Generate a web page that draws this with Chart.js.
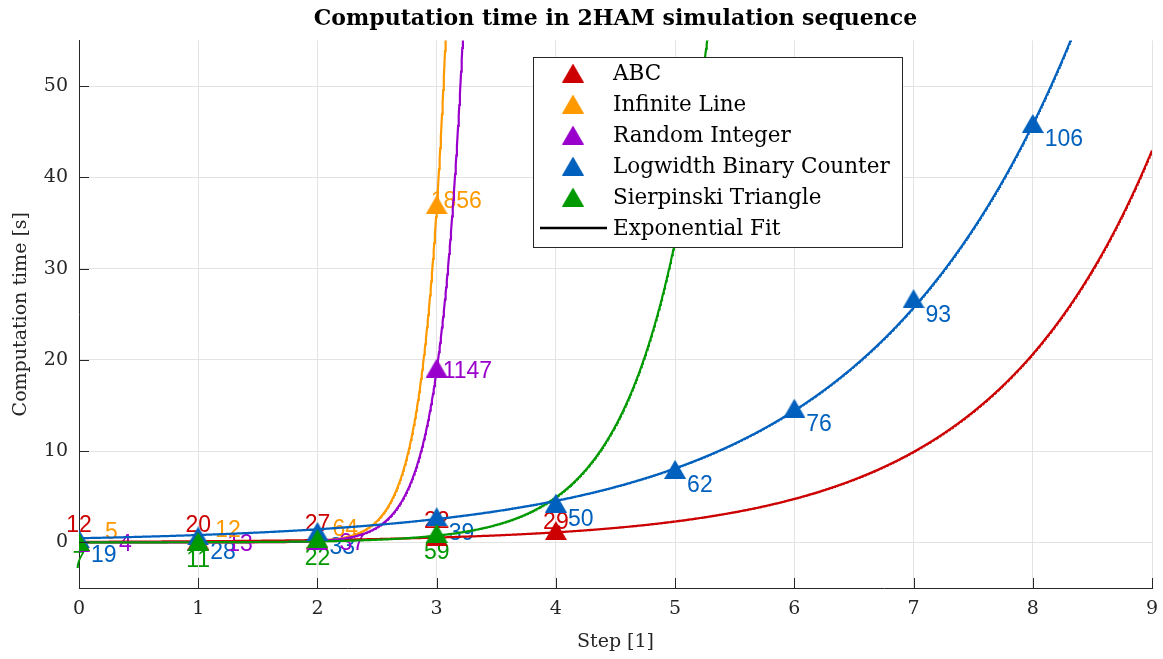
<!DOCTYPE html>
<html>
<head>
<meta charset="utf-8">
<script src="https://cdn.jsdelivr.net/npm/chart.js@4.4.1/dist/chart.umd.min.js"></script>
<style>
  html, body { margin: 0; padding: 0; background: #fff; }
</style>
</head>
<body>
<canvas id="chart" width="1163" height="659"></canvas>
<script>
// data
const seriesNames = ['ABC', 'Infinite Line', 'Random Integer', 'Logwidth Binary Counter', 'Sierpinski Triangle'];
const abcSteps = [0, 1, 2, 3, 4];
const abcTime = [0.1, 0.2, 0.3, 0.6, 1.3];
const abcLabels = ['12', '20', '27', '22', '29'];
const lineSteps = [0, 1, 2, 3];
const lineTime = [0.05, 0.1, 0.2, 37.0];
const lineLabels = ['5', '12', '64', '1856'];
const randSteps = [0, 1, 2, 3];
const randTime = [0.02, 0.05, 0.15, 19.1];
const randLabels = ['4', '13', '37', '1147'];
const counterSteps = [0, 1, 2, 3, 4, 5, 6, 7, 8];
const counterTime = [0.4, 0.7, 1.2, 2.8, 4.3, 8.0, 14.7, 26.7, 45.9];
const counterLabels = ['19', '28', '33', '39', '50', '62', '76', '93', '106'];
const sierpSteps = [0, 1, 2, 3];
const sierpTime = [0.05, 0.1, 0.4, 1.0];
const sierpLabels = ['7', '11', '22', '59'];
// exponential fit y = a * exp(b * x), one per series
const fitA = [0.0586, 2.5e-6, 7.8e-6, 0.453, 0.00247];
const fitB = [0.733, 5.5, 4.9, 0.577, 1.9];
const xTicks = [0, 1, 2, 3, 4, 5, 6, 7, 8, 9];
const yTicks = [0, 10, 20, 30, 40, 50];

const steps = [abcSteps, lineSteps, randSteps, counterSteps, sierpSteps];
const times = [abcTime, lineTime, randTime, counterTime, sierpTime];
const labels = [abcLabels, lineLabels, randLabels, counterLabels, sierpLabels];
const colors = ['#cc0000', '#ff9900', '#9900cc', '#0060bd', '#009900'];

const serif = "'DejaVu Serif', 'Liberation Serif', serif";
const axisColor = '#262626';

// label placement (pixels from the marker)
const labelStyle = [
  { align: 'center', dx: [0, 0, 0, 0, 0], dy: [-9, -9, -9, -9, -2] },
  { align: 'left', dx: [26, 17, 15, -6], dy: [-3, -4, -5, 3] },
  { align: 'left', dx: [40, 29, 22, 6], dy: [9, 9, 9, 10] },
  { align: 'left', dx: [12], dy: [23] },
  { align: 'center', dx: [0], dy: [26] },
];

function triangle(color, w, h) {
  const c = document.createElement('canvas');
  c.width = w; c.height = h;
  const g = c.getContext('2d');
  g.fillStyle = color;
  g.beginPath();
  g.moveTo(w / 2, 0);
  g.lineTo(w, h);
  g.lineTo(0, h);
  g.closePath();
  g.fill();
  return c;
}
const markers = colors.map(c => triangle(c, 22, 19));

function fitCurve(a, b) {
  const pts = [];
  for (let k = 0; k <= 1800; k++) {
    const x = k * 0.005;
    const y = a * Math.exp(b * x);
    pts.push({ x, y });
    if (y > 60) break;
  }
  return pts;
}

// markers first in the list so they sit on top; green on top of the rest
const markerOrder = [4, 3, 2, 1, 0];
const fitOrder = [3, 4, 2, 1, 0];

const datasets = [];
markerOrder.forEach(i => {
  datasets.push({
    label: seriesNames[i],
    data: steps[i].map((s, j) => ({ x: s, y: times[i][j] })),
    showLine: false,
    pointStyle: markers[i],
    pointRadius: 10,
    pointHoverRadius: 10,
    backgroundColor: colors[i],
    borderColor: colors[i],
  });
});
fitOrder.forEach(i => {
  datasets.push({
    label: 'Exponential Fit',
    data: fitCurve(fitA[i], fitB[i]),
    showLine: true,
    borderColor: colors[i],
    borderWidth: 2.2,
    pointRadius: 0,
    tension: 0,
  });
});

const valueLabels = {
  id: 'valueLabels',
  beforeDatasetsDraw(chart) {
    const ctx = chart.ctx;
    ctx.save();
    ctx.font = "23px 'Liberation Sans', Arial, sans-serif";
    ctx.textBaseline = 'alphabetic';
    markerOrder.forEach((i, d) => {
      const meta = chart.getDatasetMeta(d);
      const st = labelStyle[i];
      ctx.fillStyle = colors[i];
      ctx.textAlign = st.align;
      meta.data.forEach((pt, j) => {
        const dx = st.dx.length > 1 ? st.dx[j] : st.dx[0];
        const dy = st.dy.length > 1 ? st.dy[j] : st.dy[0];
        ctx.fillText(labels[i][j], pt.x + dx, pt.y + dy);
      });
    });
    ctx.restore();
  }
};

const axesAndLegend = {
  id: 'axesAndLegend',
  afterDraw(chart) {
    const ctx = chart.ctx;
    const a = chart.chartArea;
    const xs = chart.scales.x, ys = chart.scales.y;
    ctx.save();
    // inward tick marks
    ctx.strokeStyle = axisColor;
    ctx.lineWidth = 1;
    ctx.beginPath();
    yTicks.forEach(v => {
      const y = Math.round(ys.getPixelForValue(v)) + 0.5;
      ctx.moveTo(a.left, y); ctx.lineTo(a.left + 10, y);
    });
    xTicks.forEach(v => {
      const x = Math.round(xs.getPixelForValue(v)) + 0.5;
      ctx.moveTo(x, a.bottom); ctx.lineTo(x, a.bottom - 10);
    });
    ctx.stroke();

    // legend box
    const L = { x: 533, y: 57, w: 369, h: 190, row: 31 };
    ctx.fillStyle = '#fff';
    ctx.fillRect(L.x, L.y, L.w, L.h);
    ctx.strokeStyle = '#262626';
    ctx.strokeRect(L.x + 0.5, L.y + 0.5, L.w, L.h);
    ctx.font = '21.5px ' + serif;
    ctx.textAlign = 'left';
    ctx.textBaseline = 'middle';
    ctx.fillStyle = '#000';
    const rows = seriesNames.concat(['Exponential Fit']);
    rows.forEach((name, r) => {
      const cy = L.y + 16 + r * L.row;
      if (r < seriesNames.length) {
        const m = markers[r];
        ctx.drawImage(m, L.x + 40 - m.width / 2, cy - m.height / 2);
      } else {
        ctx.strokeStyle = '#000';
        ctx.lineWidth = 2.5;
        ctx.beginPath();
        ctx.moveTo(L.x + 7, cy); ctx.lineTo(L.x + 74, cy);
        ctx.stroke();
      }
      ctx.fillText(name, L.x + 80, cy + 1);
    });
    ctx.restore();
  }
};

new Chart(document.getElementById('chart'), {
  type: 'scatter',
  data: { datasets },
  options: {
    responsive: false,
    animation: false,
    devicePixelRatio: 1,
    layout: { padding: { left: 0, right: 10, top: 0, bottom: 0 } },
    plugins: {
      legend: { display: false },
      tooltip: { enabled: false },
      title: {
        display: true,
        text: 'Computation time in 2HAM simulation sequence',
        fullSize: false,
        color: '#000',
        font: { family: serif, size: 22, weight: 'bold' },
        padding: { top: 6, bottom: 8 },
      },
    },
    scales: {
      x: {
        type: 'linear',
        min: 0,
        max: 9,
        afterBuildTicks: s => { s.ticks = xTicks.map(v => ({ value: v })); },
        afterFit: s => { s.height = 71; s.paddingLeft = 0; s.paddingRight = 0; },
        grid: { color: '#e3e3e3', drawTicks: false },
        border: { display: true, color: axisColor, width: 1 },
        ticks: { color: axisColor, padding: 10, font: { family: serif, size: 19 } },
        title: {
          display: true, text: 'Step [1]', color: axisColor,
          font: { family: serif, size: 19 }, padding: { top: 0, bottom: 6 },
        },
      },
      y: {
        type: 'linear',
        min: -5,
        max: 55,
        afterBuildTicks: s => { s.ticks = yTicks.map(v => ({ value: v })); },
        afterFit: s => { s.width = 79; s.paddingTop = 0; s.paddingBottom = 0; },
        grid: { color: '#e3e3e3', drawTicks: false },
        border: { display: true, color: axisColor, width: 1 },
        ticks: { color: axisColor, padding: 11, font: { family: serif, size: 19 } },
        title: {
          display: true, text: 'Computation time [s]', color: axisColor,
          font: { family: serif, size: 19 }, padding: { top: 10, bottom: 0 },
        },
      },
    },
  },
  plugins: [valueLabels, axesAndLegend],
});
</script>
</body>
</html>
